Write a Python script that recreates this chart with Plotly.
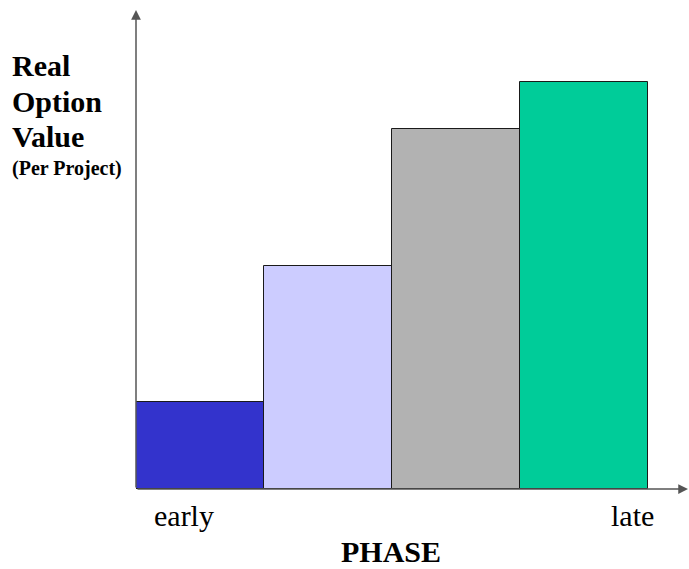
import plotly.graph_objects as go

phases = ["p1", "p2", "p3", "p4"]
values = [18.2, 46.6, 75.2, 85.0]
colors = ["#3333CC", "#CCCCFF", "#B2B2B2", "#00CC99"]

W, H = 689, 569
L, R, T, B = 136, 0, 10, 80
PW = W - L - R
PH = H - T - B

def px(X):
    return (X - L) / PW

def py(Y):
    return (H - B - Y) / PH

fig = go.Figure()
fig.add_trace(go.Bar(
    x=list(range(len(values))), y=values,
    marker=dict(color=colors, line=dict(color="#1a1a1a", width=1)),
    width=1.0, hoverinfo="skip",
))

serif = "Liberation Serif, Times New Roman, serif"
ann = []
# axes with arrows
ann.append(dict(x=0, y=1, xref="paper", yref="paper", ax=0, ay=PH, axref="pixel", ayref="pixel",
                showarrow=True, arrowhead=2, arrowsize=1.3, arrowwidth=1.5, arrowcolor="#555555", text=""))
ann.append(dict(x=1, y=0, xref="paper", yref="paper", ax=-PW, ay=0, axref="pixel", ayref="pixel",
                showarrow=True, arrowhead=2, arrowsize=1.3, arrowwidth=1.5, arrowcolor="#555555", text=""))

def txt(t, X, Y, size, bold=False, anchor="left"):
    if bold:
        t = "<b>" + t + "</b>"
    ann.append(dict(text=t, x=px(X), y=py(Y), xref="paper", yref="paper", showarrow=False,
                    xanchor=anchor, yanchor="middle", font=dict(family=serif, size=size, color="black")))

txt("Real", 10, 66, 30, True)
txt("Option", 10, 101, 30, True)
txt("Value", 10, 136, 30, True)
txt("(Per Project)", 10, 168, 20, True)
txt("early", 184, 515, 30, False, "center")
txt("late", 632, 515, 30, False, "center")
txt("PHASE", 391, 551, 30, True, "center")

fig.update_layout(
    width=W, height=H, margin=dict(l=L, r=R, t=T, b=B),
    paper_bgcolor="white", plot_bgcolor="white",
    showlegend=False, bargap=0,
    xaxis=dict(range=[-0.5, -0.5 + PW / 128.0], visible=False, fixedrange=True),
    yaxis=dict(range=[0, 100], visible=False, fixedrange=True),
    annotations=ann,
)
fig.write_html("out.html")
